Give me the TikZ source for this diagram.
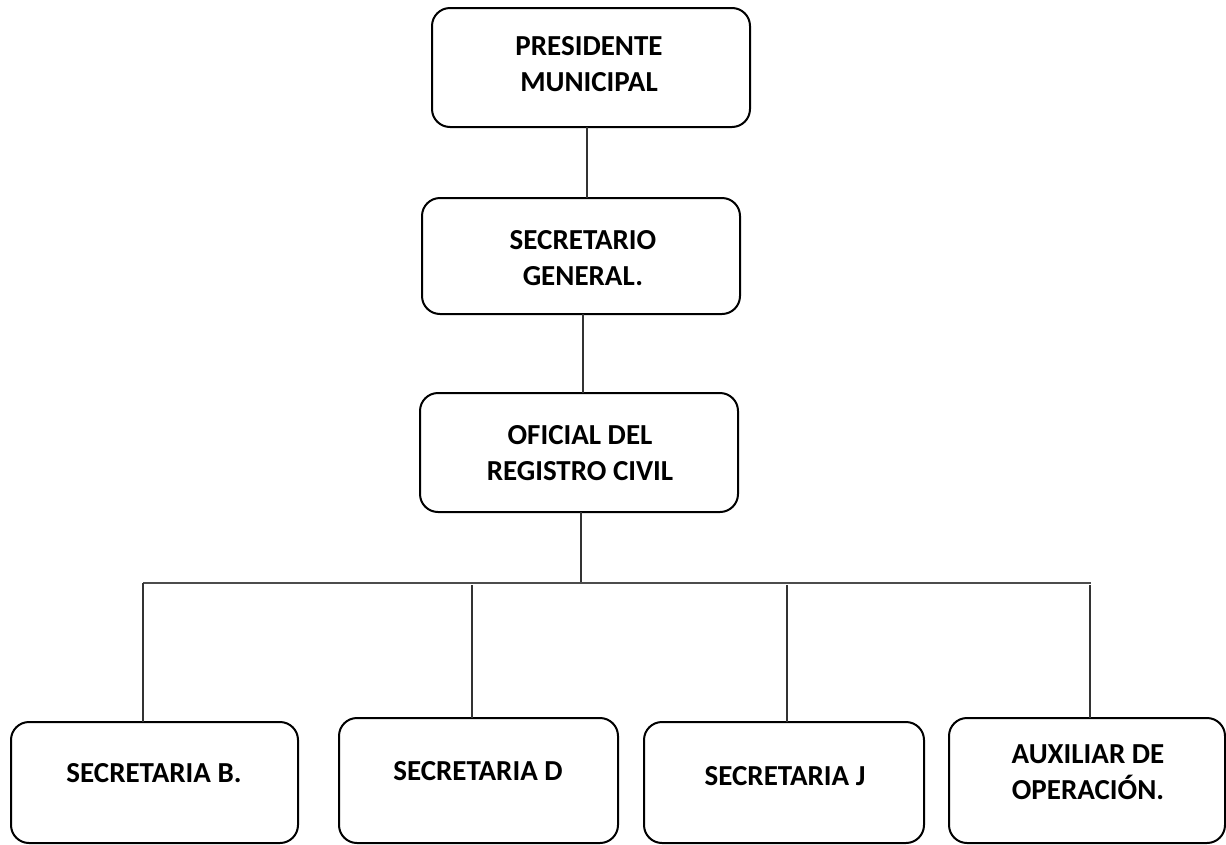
\documentclass[tikz,border=0pt]{standalone}
\usepackage{fontspec}
\setmainfont{Carlito}
\begin{document}
\begin{tikzpicture}[x=1pt,y=-1pt,
  box/.style={draw=black,line width=2pt,rounded corners=18pt,inner sep=0pt,outer sep=0pt},
  lbl/.style={inner sep=0pt,align=center,font=\fontsize{29}{36}\selectfont\bfseries},
  conn/.style={draw=black!80,line width=1.1pt},
  bus/.style={draw=black!70,line width=2pt}]
\useasboundingbox (0,0) rectangle (1226,844);
% boxes
\node[box,minimum width=318pt,minimum height=119pt] (p) at (591,67.5) {};
\node[box,minimum width=318pt,minimum height=116pt] (s) at (581,256) {};
\node[box,minimum width=318pt,minimum height=119pt] (o) at (579,452.5) {};
\node[box,minimum width=287pt,minimum height=121pt] (b1) at (154.5,782.5) {};
\node[box,minimum width=279pt,minimum height=125pt] (b2) at (478.5,780.5) {};
\node[box,minimum width=280pt,minimum height=121pt] (b3) at (784,782.5) {};
\node[box,minimum width=276pt,minimum height=125pt] (b4) at (1087,780.5) {};
% texts
\node[lbl] (tp) at (589,64) {PRESIDENTE\\MUNICIPAL};
\node[lbl] (ts) at (583,258) {SECRETARIO\\GENERAL.};
\node[lbl] (to) at (580,453) {OFICIAL DEL\\REGISTRO CIVIL};
\node[lbl] (t1) at (154,773.5) {SECRETARIA B.};
\node[lbl] (t2) at (478,771) {SECRETARIA D};
\node[lbl] (t3) at (785,776) {SECRETARIA J};
\node[lbl] (t4) at (1088,772.5) {AUXILIAR DE\\OPERACIÓN.};
% connectors
\draw[conn] ([xshift=-4pt]p.south) -- ([xshift=-4pt]p.south |- s.north);
\draw[conn] ([xshift=2pt]s.south) -- ([xshift=2pt]s.south |- o.north);
\coordinate (bl) at (143,583);
\coordinate (br) at (1091,583);
\draw[conn] ([xshift=2pt]o.south) -- ([xshift=2pt]o.south |- bl);
\draw[bus] (bl) -- (br);
\coordinate (d1) at (143,583);
\coordinate (d2) at (472,585);
\coordinate (d3) at (787,585);
\coordinate (d4) at (1090,585);
\draw[conn] (d1) -- (d1 |- b1.north);
\draw[conn] (d2) -- (d2 |- b2.north);
\draw[conn] (d3) -- (d3 |- b3.north);
\draw[conn] (d4) -- (d4 |- b4.north);
\end{tikzpicture}
\end{document}
